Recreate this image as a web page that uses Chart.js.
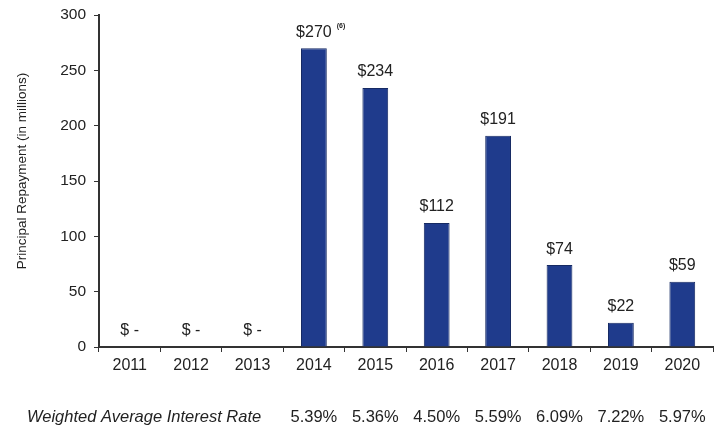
<!DOCTYPE html>
<html><head><meta charset="utf-8">
<script src="https://cdn.jsdelivr.net/npm/chart.js@4"></script>
<style>html,body{margin:0;padding:0;background:#fff}#wrap{width:726px;height:428px}</style>
</head><body><div id="wrap"><canvas id="c" width="726" height="428"></canvas></div>
<script>
const categories = ['2011','2012','2013','2014','2015','2016','2017','2018','2019','2020'];
const repayments = [0, 0, 0, 270, 234, 112, 191, 74, 22, 59];
const rates = ['', '', '', '5.39%', '5.36%', '4.50%', '5.59%', '6.09%', '7.22%', '5.97%'];
const yTicks = [0, 50, 100, 150, 200, 250, 300];
const footnotes = {3: '(6)'};
const yTitle = 'Principal Repayment (in millions)';

const FONT = '"Liberation Sans", Arial, sans-serif';
const TXT = '#222';

const labelsPlugin = {
  id: 'labels',
  afterDatasetsDraw(chart) {
    const ctx = chart.ctx;
    const meta = chart.getDatasetMeta(0);
    const y = chart.scales.y;
    ctx.save();
    ctx.fillStyle = TXT;
    ctx.textAlign = 'center';
    ctx.textBaseline = 'bottom';
    meta.data.forEach((bar, i) => {
      const v = repayments[i];
      const txt = v === 0 ? '$ -' : '$' + v;
      const top = y.getPixelForValue(v);
      ctx.font = '16px ' + FONT;
      ctx.fillText(txt, bar.x, top - 8);
      if (footnotes[i]) {
        const w = ctx.measureText(txt).width;
        ctx.font = 'bold 7px ' + FONT;
        ctx.textAlign = 'left';
        ctx.fillText(footnotes[i], bar.x + w / 2 + 5, top - 19);
        ctx.textAlign = 'center';
      }
    });
    ctx.restore();
  },
  afterDraw(chart) {
    const ctx = chart.ctx;
    const x = chart.scales.x;
    ctx.save();
    ctx.fillStyle = TXT;
    ctx.textBaseline = 'middle';
    ctx.font = 'italic 16.5px ' + FONT;
    ctx.textAlign = 'left';
    ctx.fillText('Weighted Average Interest Rate', 27, 417);
    ctx.font = '16.5px ' + FONT;
    ctx.textAlign = 'center';
    rates.forEach((r, i) => { if (r) ctx.fillText(r, x.getPixelForValue(i), 417); });
    // y-axis title
    ctx.translate(22, 171);
    ctx.rotate(-Math.PI / 2);
    ctx.font = '13.5px ' + FONT;
    ctx.fillText(yTitle, 0, 0);
    ctx.restore();
  }
};

new Chart(document.getElementById('c'), {
  type: 'bar',
  data: {
    labels: categories,
    datasets: [{
      data: repayments,
      backgroundColor: '#1f3b8c',
      borderColor: '#162a63',
      borderWidth: ctx => (repayments[ctx.dataIndex] === 0 ? 0 : 1),
      categoryPercentage: 1,
      barPercentage: 0.42
    }]
  },
  options: {
    responsive: false,
    animation: false,
    devicePixelRatio: 1,
    layout: { padding: { top: 15, right: 13, left: 0, bottom: 0 } },
    plugins: { legend: { display: false }, tooltip: { enabled: false } },
    scales: {
      x: {
        offset: true,
        grid: { offset: true, drawOnChartArea: false, drawTicks: true, tickLength: 5, color: '#333', lineWidth: 1 },
        border: { color: '#333', width: 2 },
        ticks: { color: TXT, font: { family: FONT, size: 16 }, padding: 4, maxRotation: 0 },
        afterFit(s) { s.height = 81; }
      },
      y: {
        min: 0, max: 300,
        afterBuildTicks(s) { s.ticks = yTicks.map(v => ({ value: v })); },
        grid: { drawOnChartArea: false, drawTicks: true, tickLength: 5, color: '#333' },
        border: { color: '#333', width: 2 },
        ticks: { color: TXT, font: { family: FONT, size: 15.5 }, padding: 8 },
        title: { display: false },
        afterFit(s) { s.width = 99; s.paddingTop = 0; s.paddingBottom = 0; }
      }
    }
  },
  plugins: [labelsPlugin]
});
</script>
</body></html>
